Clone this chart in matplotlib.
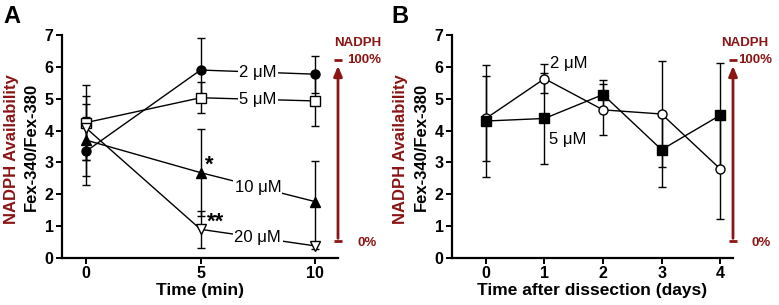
import matplotlib
matplotlib.use("Agg")
import matplotlib.pyplot as plt

plt.rcParams["font.family"] = ["Liberation Sans", "DejaVu Sans"]

DARK_RED = "#8B1414"

# Panel A: NADPH sensor vs time at several concentrations
time_a = [0, 5, 10]
conc_a = ["2 \u03bcM", "5 \u03bcM", "10 \u03bcM", "20 \u03bcM"]
mean_a = [
    [3.35, 5.90, 5.77],
    [4.25, 5.03, 4.93],
    [3.70, 2.68, 1.77],
    [4.08, 0.90, 0.38],
]
err_a = [
    [1.07, 1.00, 0.58],
    [1.17, 0.48, 0.80],
    [1.12, 1.37, 1.28],
    [1.00, 0.58, 0.10],
]
markers_a = ["o", "s", "^", "v"]
filled_a = [True, False, True, False]

# Panel B: time after dissection
time_b = [0, 1, 2, 3, 4]
conc_b = ["2 \u03bcM", "5 \u03bcM"]
mean_b = [
    [4.38, 5.63, 4.65, 4.52, 2.80],
    [4.30, 4.38, 5.13, 3.40, 4.48],
]
err_b = [
    [1.32, 0.45, 0.80, 1.65, 1.57],
    [1.77, 1.42, 0.45, 1.18, 1.65],
]
markers_b = ["o", "s"]
filled_b = [False, True]

fig = plt.figure(figsize=(7.79, 3.05), dpi=100)
ax_a = fig.add_axes([62 / 779, 47 / 305, 276 / 779, 223 / 305])
ax_b = fig.add_axes([452 / 779, 47 / 305, 281 / 779, 223 / 305])

PX = 72 / 100  # points per pixel


def style_axes(ax, xticks, xlim, xlabel):
    ax.set_xlim(*xlim)
    ax.set_ylim(0, 7)
    ax.set_xticks(xticks)
    ax.set_yticks(range(8))
    for s in ["top", "right"]:
        ax.spines[s].set_visible(False)
    for s in ["left", "bottom"]:
        ax.spines[s].set_linewidth(1.6)
    ax.tick_params(direction="out", length=4, width=1.4, labelsize=11.5, pad=2)
    for lab in ax.get_xticklabels() + ax.get_yticklabels():
        lab.set_fontweight("bold")
    ax.set_xlabel(xlabel, fontsize=12.5, fontweight="bold", labelpad=1)
    # two-line y label, placed in pixels left of the spine
    ax.annotate("Fex-340/Fex-380", xy=(0, 0.5), xycoords="axes fraction",
                xytext=(-31 * PX, 0), textcoords="offset points", rotation=90,
                ha="center", va="center", fontsize=12, fontweight="bold")
    ax.annotate("NADPH Availability", xy=(0, 0.49), xycoords="axes fraction",
                xytext=(-51 * PX, 0), textcoords="offset points", rotation=90,
                ha="center", va="center", fontsize=12, fontweight="bold",
                color=DARK_RED)


def nadph_arrow(ax, dx_title, dx_top, dx_zero):
    trans = ax.get_yaxis_transform()
    ax.annotate("", xy=(1.0, 6.12), xytext=(1.0, 0.53), xycoords=trans, textcoords=trans,
                arrowprops=dict(arrowstyle="-|>,head_length=0.6,head_width=0.25",
                                color=DARK_RED, lw=2), annotation_clip=False)
    for yv in [6.23, 0.53]:
        ax.plot([0.985, 1.015], [yv, yv], transform=trans, color=DARK_RED, lw=2,
                clip_on=False, solid_capstyle="butt")
    ax.annotate("NADPH", xy=(1.0, 6.23), xycoords=trans, xytext=(dx_title * PX, 11 * PX),
                textcoords="offset points", ha="center", va="bottom", fontsize=9.5,
                fontweight="bold", color=DARK_RED, annotation_clip=False)
    ax.annotate("100%", xy=(1.0, 6.23), xycoords=trans, xytext=(dx_top * PX, 0),
                textcoords="offset points", ha="left", va="center", fontsize=9.5,
                fontweight="bold", color=DARK_RED, annotation_clip=False)
    ax.annotate("0%", xy=(1.0, 0.53), xycoords=trans, xytext=(dx_zero * PX, -1),
                textcoords="offset points", ha="left", va="center", fontsize=9.5,
                fontweight="bold", color=DARK_RED, annotation_clip=False)


# ---- Panel A ----
for i in range(len(conc_a)):
    ax_a.errorbar(time_a, mean_a[i], yerr=err_a[i], color="black", lw=1,
                  elinewidth=1, capsize=3, capthick=1, marker=markers_a[i], ms=6.5,
                  mfc="black" if filled_a[i] else "white", mec="black", mew=1,
                  zorder=3)
    ymid = (mean_a[i][1] + mean_a[i][2]) / 2
    ax_a.text(7.5, ymid, conc_a[i], ha="center", va="center", fontsize=12,
              bbox=dict(facecolor="white", edgecolor="none", pad=1), zorder=4)

ax_a.text(5.4, 2.9, "*", fontsize=16, fontweight="bold", ha="center", va="center")
ax_a.text(5.65, 1.12, "**", fontsize=16, fontweight="bold", ha="center", va="center")

style_axes(ax_a, time_a, (-1.05, 11.0), "Time (min)")
nadph_arrow(ax_a, 20, 9, 19)
fig.text(0.004, 0.985, "A", fontsize=17, fontweight="bold", ha="left", va="top")

# ---- Panel B ----
for i in range(len(conc_b)):
    ax_b.errorbar(time_b, mean_b[i], yerr=err_b[i], color="black", lw=1,
                  elinewidth=1, capsize=3, capthick=1, marker=markers_b[i], ms=6.5,
                  mfc="black" if filled_b[i] else "white", mec="black", mew=1,
                  zorder=3)

ax_b.text(1.1, 6.1, conc_b[0], ha="left", va="center", fontsize=12)
ax_b.text(1.07, 3.73, conc_b[1], ha="left", va="center", fontsize=12)

style_axes(ax_b, time_b, (-0.58, 4.22), "Time after dissection (days)")
nadph_arrow(ax_b, 12, 5, 19)
fig.text(0.503, 0.985, "B", fontsize=17, fontweight="bold", ha="left", va="top")

fig.savefig("out.png", dpi=100)
